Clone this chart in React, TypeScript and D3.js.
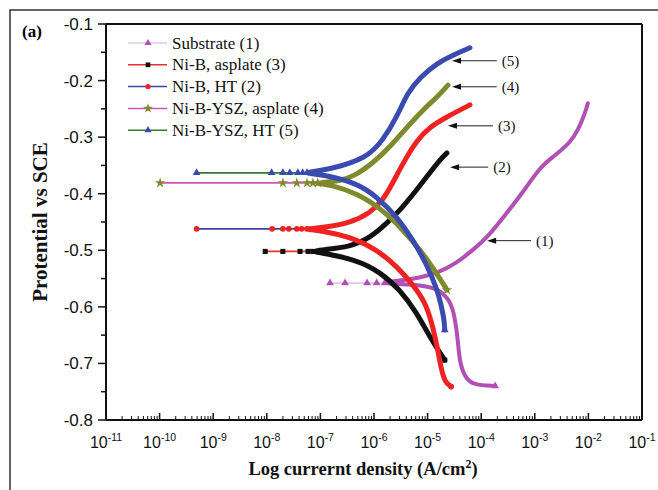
import React from 'react';
import * as d3 from 'd3';

type P = [number, number];

// tick values
const xDecades = [-11, -10, -9, -8, -7, -6, -5, -4, -3, -2, -1];
const yTicks = [-0.1, -0.2, -0.3, -0.4, -0.5, -0.6, -0.7, -0.8];
const yMinor = [-0.15, -0.25, -0.35, -0.45, -0.55, -0.65, -0.75];

// legend labels
const legendLabels = ['Substrate (1)', 'Ni-B, asplate (3)', 'Ni-B, HT (2)', 'Ni-B-YSZ, asplate (4)', 'Ni-B-YSZ, HT (5)'];

// Substrate (1)  [log10 i, E]
const ecorr1 = -0.558;
const sparse1 = [-6.82, -6.54, -6.13, -5.95, -5.8];
const anodic1: P[] = [[-5.8, -0.556], [-5.27, -0.551], [-4.82, -0.541], [-4.45, -0.522], [-4.15, -0.499], [-3.89, -0.478], [-3.52, -0.434], [-3.15, -0.388], [-2.9, -0.353], [-2.66, -0.335], [-2.34, -0.31], [-2.19, -0.287], [-2.06, -0.257], [-2.01, -0.24]];
const cathodic1: P[] = [[-5.8, -0.559], [-5.27, -0.56], [-4.82, -0.566], [-4.58, -0.588], [-4.49, -0.618], [-4.43, -0.664], [-4.4, -0.699], [-4.3, -0.725], [-4.15, -0.738], [-3.74, -0.74]];

// Ni-B, asplate (3)
const ecorr3 = -0.502;
const sparse3 = [-8.03, -7.7, -7.38, -7.23, -7.14];
const anodic3: P[] = [[-7.1, -0.501], [-6.95, -0.499], [-6.45, -0.494], [-6.07, -0.478], [-5.76, -0.452], [-5.51, -0.429], [-5.2, -0.393], [-4.96, -0.363], [-4.77, -0.34], [-4.64, -0.328]];
const cathodic3: P[] = [[-7.1, -0.503], [-6.95, -0.505], [-6.32, -0.517], [-5.89, -0.538], [-5.51, -0.57], [-5.2, -0.611], [-4.96, -0.653], [-4.77, -0.681], [-4.68, -0.694]];

// Ni-B, HT (2)
const ecorr2 = -0.462;
const sparse2 = [-9.31, -7.9, -7.7, -7.59, -7.44, -7.35, -7.25];
const anodic2: P[] = [[-7.25, -0.462], [-6.95, -0.46], [-6.45, -0.452], [-6.07, -0.434], [-5.83, -0.411], [-5.65, -0.381], [-5.46, -0.346], [-5.2, -0.305], [-4.96, -0.282], [-4.64, -0.264], [-4.21, -0.243]];
const cathodic2: P[] = [[-7.25, -0.463], [-6.95, -0.466], [-6.45, -0.476], [-5.94, -0.499], [-5.57, -0.529], [-5.27, -0.561], [-5.05, -0.591], [-4.92, -0.628], [-4.82, -0.671], [-4.75, -0.708], [-4.68, -0.733], [-4.56, -0.741]];

// Ni-B-YSZ, asplate (4)
const ecorr4 = -0.381;
const sparse4 = [-9.99, -7.7, -7.44, -7.25, -7.14, -7.05];
const anodic4: P[] = [[-7.05, -0.381], [-6.63, -0.377], [-6.39, -0.37], [-6.02, -0.346], [-5.7, -0.317], [-5.38, -0.282], [-5.09, -0.252], [-4.82, -0.229], [-4.62, -0.208]];
const cathodic4: P[] = [[-7.05, -0.382], [-6.82, -0.384], [-6.32, -0.399], [-5.83, -0.429], [-5.46, -0.464], [-5.14, -0.499], [-4.9, -0.531], [-4.64, -0.57]];

// Ni-B-YSZ, HT (5)
const ecorr5 = -0.363;
const sparse5 = [-9.31, -7.91, -7.7, -7.57, -7.42, -7.33, -7.25];
const anodic5: P[] = [[-7.25, -0.362], [-6.82, -0.357], [-6.13, -0.337], [-5.83, -0.305], [-5.57, -0.264], [-5.38, -0.222], [-5.14, -0.194], [-4.82, -0.169], [-4.53, -0.155], [-4.21, -0.142]];
const cathodic5: P[] = [[-7.25, -0.364], [-6.95, -0.366], [-6.32, -0.381], [-5.94, -0.406], [-5.57, -0.441], [-5.27, -0.482], [-5.01, -0.526], [-4.82, -0.57], [-4.75, -0.596], [-4.69, -0.623], [-4.68, -0.641]];

// annotations: label, arrow tip [log i, E], tail log i
const annLabels = ['(5)', '(4)', '(3)', '(2)', '(1)'];
const annTips: P[] = [[-4.545, -0.165], [-4.545, -0.211], [-4.62, -0.28], [-4.58, -0.353], [-3.89, -0.483]];
const annTails = [-3.71, -3.71, -3.78, -3.87, -3.07];

interface Series {
  ecorr: number; sparse: number[]; anodic: P[]; cathodic: P[];
  lineColor: string; markColor: string; sym: d3.SymbolType; width: number;
}

const series: Series[] = [
  { ecorr: ecorr1, sparse: sparse1, anodic: anodic1, cathodic: cathodic1, lineColor: '#d8c8e0', markColor: '#b24fb4', sym: d3.symbolTriangle, width: 4 },
  { ecorr: ecorr3, sparse: sparse3, anodic: anodic3, cathodic: cathodic3, lineColor: '#e83030', markColor: '#111111', sym: d3.symbolSquare, width: 5 },
  { ecorr: ecorr2, sparse: sparse2, anodic: anodic2, cathodic: cathodic2, lineColor: '#3a45a8', markColor: '#ee2222', sym: d3.symbolCircle, width: 5 },
  { ecorr: ecorr4, sparse: sparse4, anodic: anodic4, cathodic: cathodic4, lineColor: '#cc55bb', markColor: '#7f8a2c', sym: d3.symbolStar, width: 5 },
  { ecorr: ecorr5, sparse: sparse5, anodic: anodic5, cathodic: cathodic5, lineColor: '#2e7d32', markColor: '#3a4bb0', sym: d3.symbolTriangle, width: 5 },
];

const serif = '"Liberation Serif", "Times New Roman", serif';
const sans = '"Liberation Sans", Arial, sans-serif';

export default function App() {
  const x = d3.scaleLinear().domain([-11, -1]).range([106, 642]);
  const y = d3.scaleLinear().domain([-0.8, -0.1]).range([420, 24]);
  const line = d3.line<P>().x(d => x(d[0])).y(d => y(d[1])).curve(d3.curveBasis);
  const straight = d3.line<P>().x(d => x(d[0])).y(d => y(d[1]));
  const x0 = x.range()[0], x1 = x.range()[1], y0 = y.range()[0], y1 = y.range()[1];

  const minorX: number[] = [];
  xDecades.slice(0, -1).forEach(dd => { for (let k = 2; k <= 9; k++) minorX.push(dd + Math.log10(k)); });

  return (
    <svg width={658} height={490} style={{ position: 'fixed', left: 0, top: 0, background: '#fff' }}>
      <rect x={10} y={10} width={700} height={520} fill="none" stroke="#333" strokeWidth={1.5} />
      <text x={22} y={37} fontFamily={serif} fontWeight="bold" fontSize={17}>(a)</text>

      {/* series */}
      {series.map((s, i) => {
        const sp: P[] = s.sparse.map(v => [v, s.ecorr]);
        const dense = [...s.cathodic.slice().reverse(), ...s.anodic];
        const sym = d3.symbol().type(s.sym).size(s.sym === d3.symbolStar ? 34 : 26)();
        const endC = s.cathodic[s.cathodic.length - 1];
        return (
          <g key={i}>
            <path d={straight(sp) || ''} fill="none" stroke={s.lineColor} strokeWidth={1.8} />
            <path d={line(dense) || ''} fill="none" stroke={s.markColor} strokeWidth={s.width} strokeLinecap="round" strokeLinejoin="round" />
            {sp.map((p, j) => (
              <path key={j} d={sym || ''} transform={`translate(${x(p[0])},${y(p[1])})`} fill={s.markColor} />
            ))}
            <path d={sym || ''} transform={`translate(${x(endC[0])},${y(endC[1])})`} fill={s.markColor} />
          </g>
        );
      })}

      {/* annotations */}
      {annLabels.map((l, i) => {
        const tx = x(annTips[i][0]), ty = y(annTips[i][1]), ex = x(annTails[i]);
        return (
          <g key={l}>
            <line x1={tx + 4} y1={ty} x2={ex} y2={ty} stroke="#222" strokeWidth={1} />
            <path d={`M${tx},${ty}L${tx + 9},${ty - 3}L${tx + 9},${ty + 3}Z`} fill="#111" />
            <text x={ex + 5} y={ty + 5} fontFamily={serif} fontSize={15} fill="#111">{l}</text>
          </g>
        );
      })}

      {/* frame */}
      <line x1={x0} y1={y1} x2={x1} y2={y1} stroke="#111" strokeWidth={2} />
      <line x1={x1} y1={y1} x2={x1} y2={y0} stroke="#111" strokeWidth={2} />
      <line x1={x0} y1={y1} x2={x0} y2={y0} stroke="#111" strokeWidth={2} />
      <line x1={x0} y1={y0} x2={x1} y2={y0} stroke="#111" strokeWidth={2} />

      {/* y ticks */}
      {yTicks.map(t => (
        <g key={t}>
          <line x1={x0 - 8} x2={x0} y1={y(t)} y2={y(t)} stroke="#111" strokeWidth={1.5} />
          <text x={x0 - 13} y={y(t) + 6} textAnchor="end" fontFamily={sans} fontSize={17} fill="#111">{t.toFixed(1)}</text>
        </g>
      ))}
      {yMinor.map(t => <line key={t} x1={x0 - 5} x2={x0} y1={y(t)} y2={y(t)} stroke="#111" strokeWidth={1.5} />)}

      {/* x ticks */}
      {xDecades.map(dd => (
        <g key={dd}>
          <line x1={x(dd)} x2={x(dd)} y1={y0} y2={y0 - 7} stroke="#111" strokeWidth={1.5} />
          <text x={x(dd)} y={448} textAnchor="middle" fontFamily={sans} fontSize={16} fill="#111">
            10<tspan dy={-7} fontSize={10.5}>{dd}</tspan>
          </text>
        </g>
      ))}
      {minorX.map((m, i) => <line key={i} x1={x(m)} x2={x(m)} y1={y0} y2={y0 - 4} stroke="#111" strokeWidth={1} />)}

      {/* axis titles */}
      <text x={363} y={475} textAnchor="middle" fontFamily={serif} fontWeight="bold" fontSize={18.5} fill="#111">
        Log currernt density (A/cm<tspan dy={-7} fontSize={12}>2</tspan><tspan dy={7}>)</tspan>
      </text>
      <text transform="translate(47,222) rotate(-90)" textAnchor="middle" fontFamily={serif} fontWeight="bold" fontSize={21} fill="#111">
        Protential vs SCE
      </text>

      {/* legend */}
      {legendLabels.map((l, i) => {
        const s = series[i];
        const ly = 43 + i * 21.8;
        const sym = d3.symbol().type(s.sym).size(s.sym === d3.symbolStar ? 30 : 22)();
        return (
          <g key={l}>
            <line x1={128} x2={167} y1={ly} y2={ly} stroke={s.lineColor} strokeWidth={1.5} />
            <path d={sym || ''} transform={`translate(148,${ly})`} fill={s.markColor} />
            <text x={172} y={ly + 5.5} fontFamily={serif} fontSize={17} fill="#111">{l}</text>
          </g>
        );
      })}
    </svg>
  );
}
